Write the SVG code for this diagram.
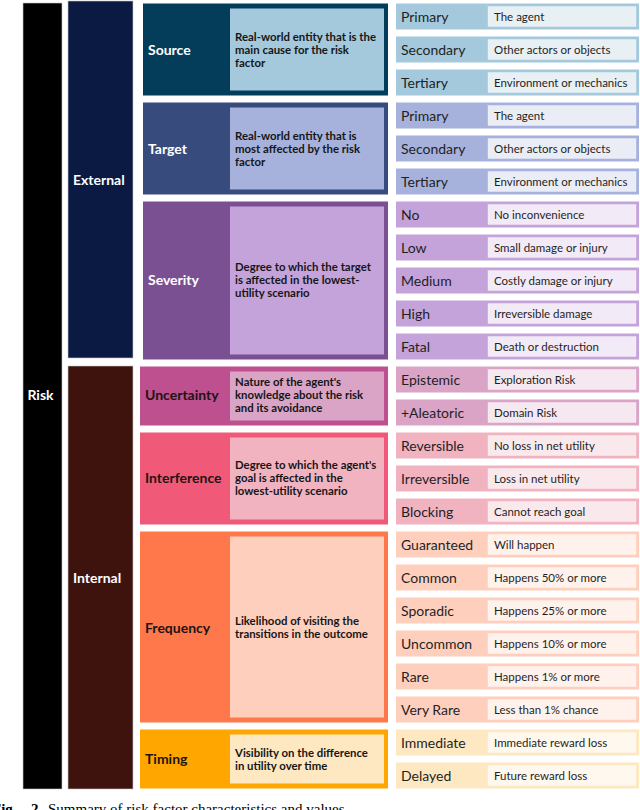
<svg xmlns="http://www.w3.org/2000/svg" width="640" height="810" viewBox="0 0 640 810">
<style>
.bg{fill:#ffffff}
.lbl{font-family:Lato,"Liberation Sans",sans-serif;font-weight:700;font-size:14px}
.w{fill:#ffffff}
.d{fill:#1c1414}
.desc{font-family:Lato,"Liberation Sans",sans-serif;font-weight:700;font-size:11.4px;fill:#161616}
.rl{font-family:Lato,"Liberation Sans",sans-serif;font-size:14px;fill:#1f1f1f}
.rv{font-family:Lato,"Liberation Sans",sans-serif;font-size:11.5px;fill:#1f1f1f}
.col{stroke:#c8c8c8;stroke-width:0.6}
.vb{stroke:#ffffff;stroke-opacity:0.5;stroke-width:0.6}
.cap{font-family:"Liberation Serif",serif;font-size:15px;fill:#000}
</style>
<rect class="bg" x="0" y="0" width="640" height="810"/>

<g id="risk">
<rect class="col" x="23" y="3" width="39" height="786" fill="#000000"/>
<text class="lbl w" x="40.5" y="400" text-anchor="middle">Risk</text>
</g>
<g id="external">
<rect class="col" x="68" y="1" width="65" height="357" fill="#0b1a42"/>
<text class="lbl w" x="73" y="185">External</text>
</g>
<g id="internal">
<rect class="col" x="68" y="366" width="65" height="423" fill="#3e130d"/>
<text class="lbl w" x="73" y="583">Internal</text>
</g>

<g id="source">
<rect x="143" y="3.5" width="245" height="92" fill="#033d5a"/>
<rect x="230" y="8.5" width="154" height="82" fill="#a4c8dc"/>
<text class="lbl w" x="148" y="55">Source</text>
<text class="desc" x="235" y="41">Real-world entity that is the</text>
<text class="desc" x="235" y="54">main cause for the risk</text>
<text class="desc" x="235" y="67">factor</text>
</g>
<g id="target">
<rect x="143" y="102.5" width="245" height="92" fill="#374b7d"/>
<rect x="230" y="107.5" width="154" height="82" fill="#a6b2dc"/>
<text class="lbl w" x="148" y="154">Target</text>
<text class="desc" x="235" y="140">Real-world entity that is</text>
<text class="desc" x="235" y="153">most affected by the risk</text>
<text class="desc" x="235" y="166">factor</text>
</g>
<g id="severity">
<rect x="143" y="201.5" width="245" height="158" fill="#7a5092"/>
<rect x="230" y="206.5" width="154" height="148" fill="#c4a3db"/>
<text class="lbl w" x="148" y="285">Severity</text>
<text class="desc" x="235" y="271">Degree to which the target</text>
<text class="desc" x="235" y="284">is affected in the lowest-</text>
<text class="desc" x="235" y="297">utility scenario</text>
</g>
<g id="uncertainty">
<rect x="140" y="366.5" width="248" height="59" fill="#bf508f"/>
<rect x="230" y="371.5" width="154" height="49" fill="#daa4c6"/>
<text class="lbl d" x="145" y="400">Uncertainty</text>
<text class="desc" x="235" y="386">Nature of the agent's</text>
<text class="desc" x="235" y="399">knowledge about the risk</text>
<text class="desc" x="235" y="412">and its avoidance</text>
</g>
<g id="interference">
<rect x="140" y="432.5" width="248" height="92" fill="#f05a78"/>
<rect x="230" y="437.5" width="154" height="82" fill="#f2b3c1"/>
<text class="lbl d" x="145" y="483">Interference</text>
<text class="desc" x="235" y="469">Degree to which the agent's</text>
<text class="desc" x="235" y="482">goal is affected in the</text>
<text class="desc" x="235" y="495">lowest-utility scenario</text>
</g>
<g id="frequency">
<rect x="140" y="531.5" width="248" height="191" fill="#ff784b"/>
<rect x="230" y="536.5" width="154" height="181" fill="#ffcfbd"/>
<text class="lbl d" x="145" y="633">Frequency</text>
<text class="desc" x="235" y="625">Likelihood of visiting the</text>
<text class="desc" x="235" y="638">transitions in the outcome</text>
</g>
<g id="timing">
<rect x="140" y="729.5" width="248" height="59" fill="#ffa600"/>
<rect x="230" y="734.5" width="154" height="49" fill="#fde8c2"/>
<text class="lbl d" x="145" y="764">Timing</text>
<text class="desc" x="235" y="757">Visibility on the difference</text>
<text class="desc" x="235" y="770">in utility over time</text>
</g>

<g id="values-source">
<rect x="396" y="3.5" width="243" height="26" fill="#a4c8dc"/><rect class="vb" x="488" y="6.5" width="148" height="20" fill="#e8f0f4"/>
<text class="rl" x="401" y="21.5">Primary</text><text class="rv" x="494" y="20.5">The agent</text>
<rect x="396" y="36.5" width="243" height="26" fill="#a4c8dc"/><rect class="vb" x="488" y="39.5" width="148" height="20" fill="#e8f0f4"/>
<text class="rl" x="401" y="54.5">Secondary</text><text class="rv" x="494" y="53.5">Other actors or objects</text>
<rect x="396" y="69.5" width="243" height="26" fill="#a4c8dc"/><rect class="vb" x="488" y="72.5" width="148" height="20" fill="#e8f0f4"/>
<text class="rl" x="401" y="87.5">Tertiary</text><text class="rv" x="494" y="86.5">Environment or mechanics</text>
</g>
<g id="values-target">
<rect x="396" y="102.5" width="243" height="26" fill="#a6b2dc"/><rect class="vb" x="488" y="105.5" width="148" height="20" fill="#eaedf6"/>
<text class="rl" x="401" y="120.5">Primary</text><text class="rv" x="494" y="119.5">The agent</text>
<rect x="396" y="135.5" width="243" height="26" fill="#a6b2dc"/><rect class="vb" x="488" y="138.5" width="148" height="20" fill="#eaedf6"/>
<text class="rl" x="401" y="153.5">Secondary</text><text class="rv" x="494" y="152.5">Other actors or objects</text>
<rect x="396" y="168.5" width="243" height="26" fill="#a6b2dc"/><rect class="vb" x="488" y="171.5" width="148" height="20" fill="#eaedf6"/>
<text class="rl" x="401" y="186.5">Tertiary</text><text class="rv" x="494" y="185.5">Environment or mechanics</text>
</g>
<g id="values-severity">
<rect x="396" y="201.5" width="243" height="26" fill="#c4a3db"/><rect class="vb" x="488" y="204.5" width="148" height="20" fill="#f2eaf7"/>
<text class="rl" x="401" y="219.5">No</text><text class="rv" x="494" y="218.5">No inconvenience</text>
<rect x="396" y="234.5" width="243" height="26" fill="#c4a3db"/><rect class="vb" x="488" y="237.5" width="148" height="20" fill="#f2eaf7"/>
<text class="rl" x="401" y="252.5">Low</text><text class="rv" x="494" y="251.5">Small damage or injury</text>
<rect x="396" y="267.5" width="243" height="26" fill="#c4a3db"/><rect class="vb" x="488" y="270.5" width="148" height="20" fill="#f2eaf7"/>
<text class="rl" x="401" y="285.5">Medium</text><text class="rv" x="494" y="284.5">Costly damage or injury</text>
<rect x="396" y="300.5" width="243" height="26" fill="#c4a3db"/><rect class="vb" x="488" y="303.5" width="148" height="20" fill="#f2eaf7"/>
<text class="rl" x="401" y="318.5">High</text><text class="rv" x="494" y="317.5">Irreversible damage</text>
<rect x="396" y="333.5" width="243" height="26" fill="#c4a3db"/><rect class="vb" x="488" y="336.5" width="148" height="20" fill="#f2eaf7"/>
<text class="rl" x="401" y="351.5">Fatal</text><text class="rv" x="494" y="350.5">Death or destruction</text>
</g>
<g id="values-uncertainty">
<rect x="396" y="366.5" width="243" height="26" fill="#daa4c6"/><rect class="vb" x="488" y="369.5" width="148" height="20" fill="#f6e8f0"/>
<text class="rl" x="401" y="384.5">Epistemic</text><text class="rv" x="494" y="383.5">Exploration Risk</text>
<rect x="396" y="399.5" width="243" height="26" fill="#daa4c6"/><rect class="vb" x="488" y="402.5" width="148" height="20" fill="#f6e8f0"/>
<text class="rl" x="401" y="417.5">+Aleatoric</text><text class="rv" x="494" y="416.5">Domain Risk</text>
</g>
<g id="values-interference">
<rect x="396" y="432.5" width="243" height="26" fill="#f2b3c1"/><rect class="vb" x="488" y="435.5" width="148" height="20" fill="#f9e9ed"/>
<text class="rl" x="401" y="450.5">Reversible</text><text class="rv" x="494" y="449.5">No loss in net utility</text>
<rect x="396" y="465.5" width="243" height="26" fill="#f2b3c1"/><rect class="vb" x="488" y="468.5" width="148" height="20" fill="#f9e9ed"/>
<text class="rl" x="401" y="483.5">Irreversible</text><text class="rv" x="494" y="482.5">Loss in net utility</text>
<rect x="396" y="498.5" width="243" height="26" fill="#f2b3c1"/><rect class="vb" x="488" y="501.5" width="148" height="20" fill="#f9e9ed"/>
<text class="rl" x="401" y="516.5">Blocking</text><text class="rv" x="494" y="515.5">Cannot reach goal</text>
</g>
<g id="values-frequency">
<rect x="396" y="531.5" width="243" height="26" fill="#ffcfbd"/><rect class="vb" x="488" y="534.5" width="148" height="20" fill="#fff2ed"/>
<text class="rl" x="401" y="549.5">Guaranteed</text><text class="rv" x="494" y="548.5">Will happen</text>
<rect x="396" y="564.5" width="243" height="26" fill="#ffcfbd"/><rect class="vb" x="488" y="567.5" width="148" height="20" fill="#fff2ed"/>
<text class="rl" x="401" y="582.5">Common</text><text class="rv" x="494" y="581.5">Happens 50% or more</text>
<rect x="396" y="597.5" width="243" height="26" fill="#ffcfbd"/><rect class="vb" x="488" y="600.5" width="148" height="20" fill="#fff2ed"/>
<text class="rl" x="401" y="615.5">Sporadic</text><text class="rv" x="494" y="614.5">Happens 25% or more</text>
<rect x="396" y="630.5" width="243" height="26" fill="#ffcfbd"/><rect class="vb" x="488" y="633.5" width="148" height="20" fill="#fff2ed"/>
<text class="rl" x="401" y="648.5">Uncommon</text><text class="rv" x="494" y="647.5">Happens 10% or more</text>
<rect x="396" y="663.5" width="243" height="26" fill="#ffcfbd"/><rect class="vb" x="488" y="666.5" width="148" height="20" fill="#fff2ed"/>
<text class="rl" x="401" y="681.5">Rare</text><text class="rv" x="494" y="680.5">Happens 1% or more</text>
<rect x="396" y="696.5" width="243" height="26" fill="#ffcfbd"/><rect class="vb" x="488" y="699.5" width="148" height="20" fill="#fff2ed"/>
<text class="rl" x="401" y="714.5">Very Rare</text><text class="rv" x="494" y="713.5">Less than 1% chance</text>
</g>
<g id="values-timing">
<rect x="396" y="729.5" width="243" height="26" fill="#fde8c2"/><rect class="vb" x="488" y="732.5" width="148" height="20" fill="#fef8ee"/>
<text class="rl" x="401" y="747.5">Immediate</text><text class="rv" x="494" y="746.5">Immediate reward loss</text>
<rect x="396" y="762.5" width="243" height="26" fill="#fde8c2"/><rect class="vb" x="488" y="765.5" width="148" height="20" fill="#fef8ee"/>
<text class="rl" x="401" y="780.5">Delayed</text><text class="rv" x="494" y="779.5">Future reward loss</text>
</g>

<g id="caption">
<text class="cap" x="-8" y="814" font-weight="700">Fig.</text>
<text class="cap" x="31" y="814" font-weight="700">2.</text>
<text class="cap" x="48" y="814">Summary of risk factor characteristics and values.</text>
</g>
</svg>
